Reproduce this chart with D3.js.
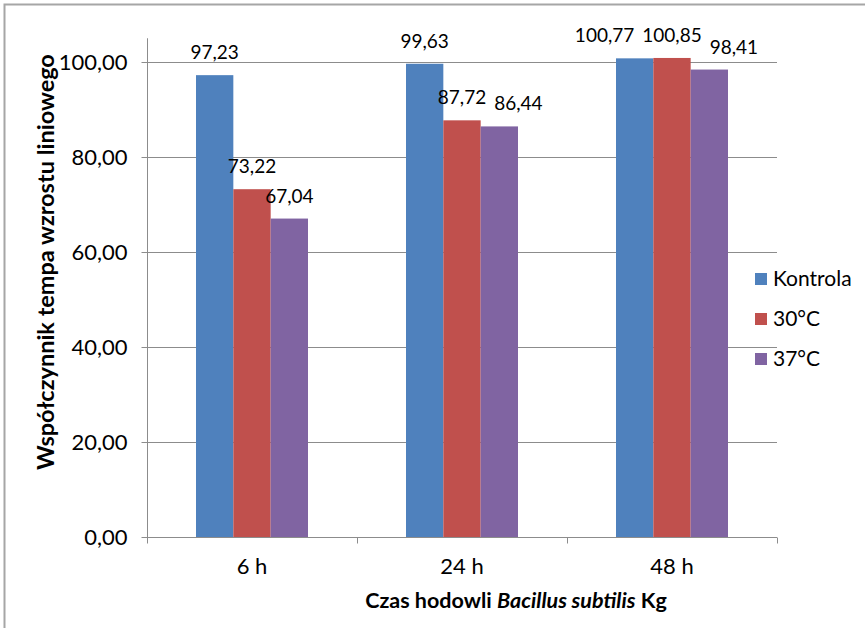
<!DOCTYPE html>
<html>
<head>
<meta charset="utf-8">
<script src="https://cdn.jsdelivr.net/npm/d3@7"></script>
<style>
  html, body { margin: 0; padding: 0; background: #fff; }
  svg { display: block; }
  text { font-family: Lato, "Open Sans", sans-serif; fill: #000; }
</style>
</head>
<body>
<svg id="chart" width="865" height="628"></svg>
<script>
const categories = ["6 h", "24 h", "48 h"];
const seriesNames = ["Kontrola", "30°C", "37°C"];
const kontrola = [97.23, 99.63, 100.77];
const c30 = [73.22, 87.72, 100.85];
const c37 = [67.04, 86.44, 98.41];
const yTicks = [0, 20, 40, 60, 80, 100];
const colors = ["#4F81BD", "#C0504D", "#8064A2"];

const seriesValues = [kontrola, c30, c37];
const rows = categories.map((c, i) => ({
  cat: c,
  vals: seriesNames.map((s, j) => ({ key: s, idx: j, value: seriesValues[j][i] }))
}));

const svg = d3.select("#chart");
const left = 147, right = 777, bottom = 537;
const y = d3.scaleLinear().domain([0, 105]).range([bottom, 38.25]);
const x0 = d3.scaleBand().domain(categories).range([left, right]).paddingInner(0).paddingOuter(0);
const x1 = d3.scaleBand().domain(seriesNames).range([0, x0.bandwidth()]).paddingInner(0).paddingOuter(1.3125);
const fmt = v => d3.format(".2f")(v).replace(".", ",");

// outer border
svg.append("rect").attr("x", 4.5).attr("y", 4.5).attr("width", 900).attr("height", 700)
  .attr("fill", "none").attr("stroke", "#A6A6A6").attr("stroke-width", 2);

// gridlines
svg.append("g").selectAll("line").data(yTicks.filter(t => t > 0)).join("line")
  .attr("x1", left).attr("x2", right)
  .attr("y1", d => Math.round(y(d)) + 0.5).attr("y2", d => Math.round(y(d)) + 0.5)
  .attr("stroke", "#8C8C8C").attr("stroke-width", 1);

// bars
const groups = svg.append("g").selectAll("g").data(rows).join("g")
  .attr("transform", d => `translate(${x0(d.cat)},0)`);
groups.selectAll("rect").data(d => d.vals).join("rect")
  .attr("x", d => x1(d.key)).attr("width", x1.bandwidth())
  .attr("y", d => y(d.value)).attr("height", d => y(0) - y(d.value))
  .attr("fill", d => colors[d.idx]);

// y axis
const yAxis = d3.axisLeft(y).tickValues(yTicks).tickSize(6).tickPadding(14).tickFormat(fmt);
const gy = svg.append("g").attr("transform", `translate(${left + 0.5},0)`).call(yAxis);
gy.select(".domain").attr("stroke", "#8C8C8C").attr("d", `M0,${y.range()[1]}V${bottom + 0.5}`);
gy.selectAll(".tick line").attr("stroke", "#8C8C8C");
gy.selectAll(".tick text").attr("font-size", 22).attr("font-family", "Lato, sans-serif").attr("fill", "#000");

// x axis
const gx = svg.append("g").attr("transform", `translate(0,${bottom + 0.5})`);
gx.append("line").attr("x1", left).attr("x2", right).attr("stroke", "#8C8C8C");
const bounds = categories.map(c => x0(c)).concat([right]);
gx.selectAll("line.tk").data(bounds).join("line").attr("class", "tk")
  .attr("x1", d => Math.round(d) + 0.5).attr("x2", d => Math.round(d) + 0.5)
  .attr("y1", 0).attr("y2", 6).attr("stroke", "#8C8C8C");
gx.selectAll("text").data(categories).join("text")
  .attr("x", d => x0(d) + x0.bandwidth() / 2).attr("y", 36)
  .attr("text-anchor", "middle").attr("font-size", 22).text(d => d);

// data labels with simple horizontal collision avoidance
const labelSize = 19;
const labelLayer = svg.append("g");
rows.forEach(r => {
  const items = r.vals.map(v => {
    const cx = x0(r.cat) + x1(v.key) + x1.bandwidth() / 2;
    const t = labelLayer.append("text").attr("font-size", labelSize).attr("text-anchor", "middle")
      .attr("y", y(v.value) - 16).text(fmt(v.value));
    return { t, cx, w: t.node().getComputedTextLength(), top: y(v.value) - 16 };
  });
  const gap = 8;
  for (let iter = 0; iter < 20; iter++) {
    for (let i = 0; i < items.length - 1; i++) {
      const a = items[i], b = items[i + 1];
      if (Math.abs(a.top - b.top) < 16) {
        const overlap = (a.cx + a.w / 2 + gap) - (b.cx - b.w / 2);
        if (overlap > 0) {
          if (i === 0 && items.length === 3) { a.cx -= overlap; }
          else if (i === 1) { b.cx += overlap; }
          else { a.cx -= overlap / 2; b.cx += overlap / 2; }
        }
      }
    }
  }
  items.forEach(it => it.t.attr("x", it.cx));
});

// axis titles
svg.append("text").attr("x", 516).attr("y", 608).attr("text-anchor", "middle")
  .attr("font-size", 21.5).attr("font-weight", "bold")
  .call(t => {
    t.append("tspan").text("Czas hodowli ");
    t.append("tspan").attr("font-style", "italic").text("Bacillus subtilis");
    t.append("tspan").text(" Kg");
  });
svg.append("text").attr("transform", "translate(54,262) rotate(-90)")
  .attr("text-anchor", "middle").attr("font-size", 23.5).attr("font-weight", "bold")
  .text("Współczynnik tempa wzrostu liniowego");

// legend
const lg = svg.append("g").selectAll("g").data(seriesNames).join("g")
  .attr("transform", (d, i) => `translate(755,${286 + i * 40})`);
lg.append("rect").attr("x", 0).attr("y", -13).attr("width", 12).attr("height", 12)
  .attr("fill", (d, i) => colors[i]);
lg.append("text").attr("x", 18).attr("y", 0).attr("font-size", 21).text(d => d);
</script>
</body>
</html>
